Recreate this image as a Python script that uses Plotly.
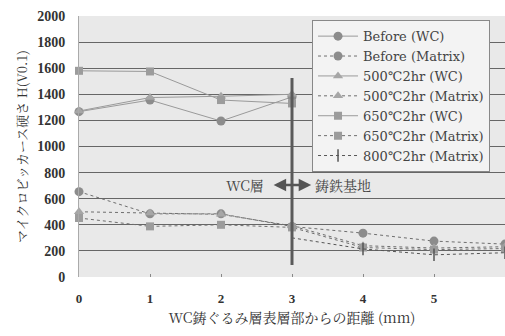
import plotly.graph_objects as go

x_wc = [0, 1, 2, 3]
x_mat = [0, 1, 2, 3, 4, 5, 6]
x_800 = [3, 4, 5, 6]

before_wc = [1267, 1356, 1195, 1380]
before_mat = [654, 484, 484, 387, 336, 275, 252]
t500_wc = [1272, 1375, 1385, 1400]
t500_mat = [500, 490, 480, 392, 240, 222, 232]
t650_wc = [1580, 1575, 1356, 1330]
t650_mat = [452, 388, 400, 380, 226, 210, 218]
t800_mat = [300, 215, 170, 186]

names = ["Before (WC)", "Before (Matrix)", "500℃2hr (WC)", "500℃2hr (Matrix)",
         "650℃2hr (WC)", "650℃2hr (Matrix)", "800℃2hr (Matrix)"]

FONT = "'Liberation Serif', 'Times New Roman', 'Noto Sans CJK JP', serif"
LEG = "'DejaVu Serif', 'Liberation Serif', 'Noto Sans CJK JP', serif"
JP = "'Noto Serif CJK JP', 'Noto Sans CJK JP', 'Liberation Serif', serif"

fig = go.Figure()

def add(xs, ys, name, symbol, dash, mcolor, lcolor, size=9, mline=None):
    marker = dict(symbol=symbol, size=size, color=mcolor)
    if mline:
        marker["line"] = mline
    fig.add_trace(go.Scatter(x=xs, y=ys, name=name, mode="lines+markers",
                             line=dict(color=lcolor, width=1, dash=dash),
                             marker=marker, cliponaxis=False))

add(x_wc, before_wc, names[0], "circle", "solid", "#8c8c8c", "#9a9a9a")
add(x_mat, before_mat, names[1], "circle", "dot", "#8c8c8c", "#6e6e6e")
add(x_wc, t500_wc, names[2], "triangle-up", "solid", "#a6a6a6", "#9a9a9a")
add(x_mat, t500_mat, names[3], "triangle-up", "dot", "#a6a6a6", "#6e6e6e")
add(x_wc, t650_wc, names[4], "square", "solid", "#9c9c9c", "#9a9a9a", size=8)
add(x_mat, t650_mat, names[5], "square", "dot", "#9c9c9c", "#6e6e6e", size=8)
add(x_800, t800_mat, names[6], "line-ns-open", "dot", "#555555", "#555555", size=9,
    mline=dict(color="#555555", width=1.5))

# boundary line and arrows
fig.add_shape(type="line", x0=3, x1=3, y0=92, y1=1525, xref="x", yref="y",
              line=dict(color="#5a5a5a", width=3))
fig.add_annotation(x=3.27, y=705, ax=2.72, ay=705, xref="x", yref="y",
                   axref="x", ayref="y", text="", showarrow=True,
                   arrowhead=2, arrowside="end+start", arrowsize=1,
                   arrowwidth=2.5, arrowcolor="#555555")
fig.add_annotation(x=2.64, y=705, xref="x", yref="y", text="WC層",
                   showarrow=False, xanchor="right",
                   font=dict(family=JP, size=14, color="#444444"))
fig.add_annotation(x=3.29, y=705, xref="x", yref="y", text="鋳鉄基地",
                   showarrow=False, xanchor="left",
                   font=dict(family=JP, size=14, color="#444444"))

fig.update_layout(
    width=505, height=336,
    margin=dict(l=79, r=0, t=16, b=59),
    paper_bgcolor="white",
    plot_bgcolor="#e9e9e9",
    font=dict(family=FONT, size=13, color="#333333"),
    showlegend=True,
    hovermode=False,
    legend=dict(x=0.547, y=0.984, xanchor="left", yanchor="top",
                bgcolor="#f3f3f3", bordercolor="#888888", borderwidth=1,
                font=dict(family=LEG, size=13, color="#444444"),
                tracegroupgap=0, itemwidth=40),
)
fig.update_xaxes(range=[0, 6], tickvals=[0, 1, 2, 3, 4, 5, 6],
                 automargin=False,
                 showgrid=False, zeroline=False,
                 showline=False, ticks="inside", ticklen=3, tickcolor="#888",
                 ticklabelstandoff=12,
                 tickfont=dict(family=FONT, size=13, color="#333", weight="bold"),
                 title=dict(text="WC鋳ぐるみ層表層部からの距離 (mm)",
                            font=dict(family=JP, size=14, color="#333"),
                            standoff=8))
fig.update_yaxes(range=[0, 2000], tickvals=list(range(0, 2001, 200)),
                 automargin=False,
                 showgrid=True, gridcolor="#666666", gridwidth=1,
                 zeroline=False, showline=True, linecolor="#aaaaaa",
                 linewidth=1, ticks="", ticklabelstandoff=10,
                 tickfont=dict(family=FONT, size=14, color="#333", weight="bold"),
                 title=dict(text="マイクロビッカース硬さ H(V0.1)",
                            font=dict(family=JP, size=13, color="#333"),
                            standoff=6))

fig.write_html("out.html", config={"displayModeBar": False},
               post_script="document.body.style.margin='0';document.body.style.overflow='hidden';")
